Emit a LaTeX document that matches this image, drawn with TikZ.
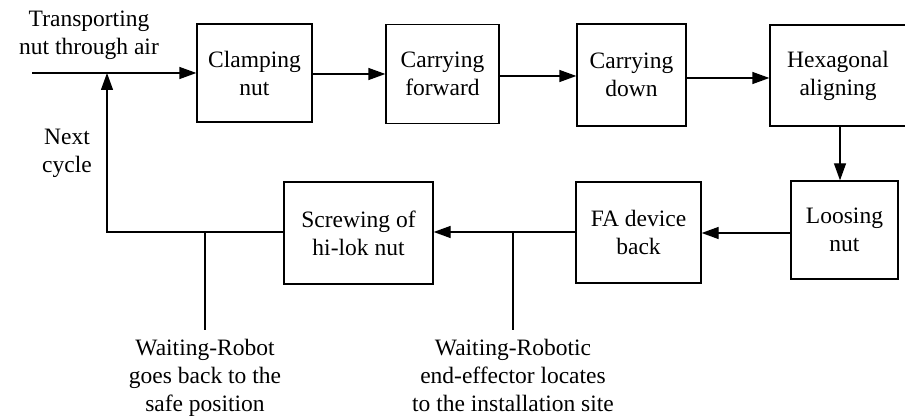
\documentclass[tikz,border=0pt]{standalone}
\usepackage{fontspec}
\setmainfont{Liberation Serif}
\usetikzlibrary{positioning,arrows}
\usetikzlibrary{arrows.meta}

\begin{document}
\begin{tikzpicture}[x=1pt,y=-1pt]
	\useasboundingbox (0,0) rectangle (905,419);
	\tikzstyle{every node}=[font=\fontsize{23.5}{28}\selectfont, rectangle, draw, line width=1.3pt, align=center, inner sep=0pt]
	\draw (254.5,73) node (clamp) [minimum width=115pt, minimum height=98pt]{Clamping\\nut};
	\draw (442.5,74) node (fwd) [minimum width=113pt, minimum height=99pt]{Carrying\\forward};
	\draw (631.5,75) node (down) [minimum width=109pt, minimum height=102pt]{Carrying\\down};
	\draw (838,75.5) node (hex) [minimum width=136pt, minimum height=101pt]{Hexagonal\\aligning};
	\draw (844.5,230) node (loose) [minimum width=107pt, minimum height=98pt]{Loosing\\nut};
	\draw (638.5,232.5) node (fa) [minimum width=125pt, minimum height=101pt]{FA device\\back};
	\draw (358.5,233) node (screw) [minimum width=149pt, minimum height=102pt]{Screwing of\\hi-lok nut};
	\tikzstyle{every node}=[font=\fontsize{23.5}{28}\selectfont, align=center, inner sep=0pt]
	\draw (89,35) node (air) {Transporting\\nut through air};
	\draw (67,153) node (next) {Next\\cycle};
	\draw (205,339) node (wr) [anchor=north] {Waiting-Robot\\goes back to the\\safe position};
	\draw (513,339) node (we) [anchor=north] {Waiting-Robotic\\end-effector locates\\to the installation site};
	\coordinate (start) at (32,73);
	\coordinate (join) at (107,73);
	\coordinate (corner) at (107,232);
	\coordinate (b1) at (205,232);
	\coordinate (b2) at (513,232);
	\tikzstyle{every path}=[line width=1.3pt]
	\draw [-{Triangle[length=17pt,width=12pt]}] (start) to (clamp.west |- start);
	\draw [-{Triangle[length=17pt,width=12pt]}] (clamp.east |- 0,74) to (fwd.west |- 0,74);
	\draw [-{Triangle[length=17pt,width=12pt]}] (fwd.east |- 0,76) to (down.west |- 0,76);
	\draw [-{Triangle[length=17pt,width=12pt]}] (down.east |- 0,78) to (hex.west |- 0,78);
	\draw [-{Triangle[length=17pt,width=12pt]}] (hex.south -| 840,0) to (loose.north -| 840,0);
	\draw [-{Triangle[length=17pt,width=12pt]}] (loose.west |- 0,233) to (fa.east |- 0,233);
	\draw [-{Triangle[length=17pt,width=12pt]}] (fa.west |- 0,232) to (screw.east |- 0,232);
	\draw [-{Triangle[length=17pt,width=12pt]}] (screw.west |- corner) -- (corner) -- (join);
	\draw (b1) -- (b1 |- 0,330);
	\draw (b2) -- (b2 |- 0,330);
\end{tikzpicture}
\end{document}
